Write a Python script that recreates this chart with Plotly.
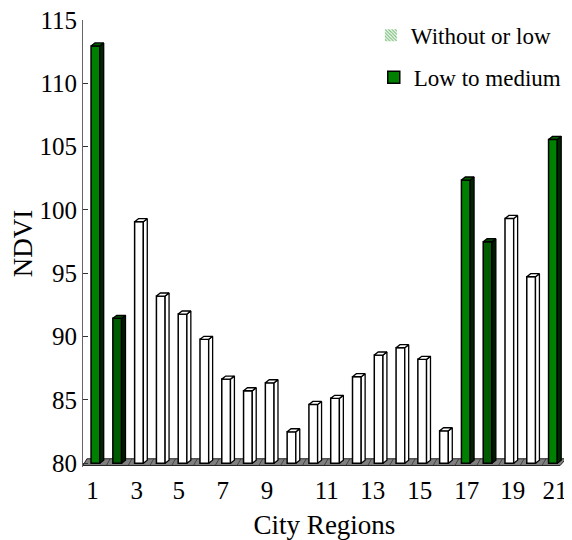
import plotly.graph_objects as go

# ---------------- data ----------------
regions = list(range(1, 23))
ndvi = [112.95, 91.44, 99.07, 93.20, 91.78, 89.78, 86.64, 85.72, 86.35, 82.48, 84.64,
        85.12, 86.83, 88.54, 89.12, 88.20, 82.56, 102.36, 97.49, 99.33, 94.73, 105.57]
cover = ["medium", "low", "none", "none", "none", "none", "none", "none", "none", "none", "none",
         "none", "none", "none", "none", "none", "none", "medium", "low", "none", "none", "medium"]
tick_labels = ["1", "3", "5", "7", "9", "11", "13", "15", "17", "19", "21"]
series_names = {"low": "Without or low", "medium": "Low to medium"}

# ---------------- style ----------------
FONT = "Liberation Serif"
BASE = 80
HW = 0.2          # half width of the bar front face (x units)
DX, DY = 0.18, 0.24   # 3-D depth offset (x units, y units)
tick_pos = [0.87, 2.90, 4.83, 6.85, 8.87, 11.62, 13.73, 15.89, 18.05, 20.16, 22.10]
XR = [0.43, 22.6]
YR = [79.7, 115]

colors = {
    "none": dict(front="#ffffff", side="#ffffff", top="#ffffff"),
    "low": dict(front="#005c00", side="#001c00", top="#004400"),
    "medium": dict(front="#008000", side="#002800", top="#006000"),
}

fig = go.Figure()

# front faces
for g in ["none", "low", "medium"]:
    xs = [r for r, c in zip(regions, cover) if c == g]
    vs = [v - BASE for v, c in zip(ndvi, cover) if c == g]
    fig.add_trace(go.Bar(
        x=xs, y=vs, base=BASE, width=2 * HW,
        marker=dict(color=colors[g]["front"], line=dict(color="black", width=1.5)),
        name=series_names.get(g, "other"),
        showlegend=(g == "medium"), legend="legend2",
        hovertemplate="Region %{x}<br>NDVI %{y}<extra></extra>",
    ))

# side and top faces (3-D look)
for g in ["none", "low", "medium"]:
    sx, sy, tx, ty = [], [], [], []
    for r, v, c in zip(regions, ndvi, cover):
        if c != g:
            continue
        sx += [r + HW, r + HW + DX, r + HW + DX, r + HW, r + HW, None]
        sy += [BASE, BASE + DY, v + DY, v, BASE, None]
        tx += [r - HW, r - HW + DX, r + HW + DX, r + HW, r - HW, None]
        ty += [v, v + DY, v + DY, v, v, None]
    for px_, py_, col in [(sx, sy, colors[g]["side"]), (tx, ty, colors[g]["top"])]:
        fig.add_trace(go.Scatter(
            x=px_, y=py_, mode="lines", fill="toself", fillcolor=col,
            line=dict(color="black", width=1.3), showlegend=False, hoverinfo="skip",
        ))

# legend-only entry with hatched symbol
fig.add_trace(go.Bar(
    x=[None], y=[None], name=series_names["low"], legend="legend",
    marker=dict(color="white", line=dict(width=0),
                pattern=dict(shape="\\", fgcolor="#008000", bgcolor="white", size=3, solidity=0.55)),
))

# floor
fl_front, fl_back = 79.82, 80.35
fig.add_shape(type="path", xref="x", yref="y", layer="below",
              path=f"M {XR[0]},{fl_front} L {22.33},{fl_front} L {XR[1]},{fl_back} L {XR[0] + 0.18},{fl_back} Z",
              fillcolor="#808080", line=dict(color="#222222", width=1))
for r in regions[:-1]:
    fig.add_shape(type="line", xref="x", yref="y", layer="below",
                  x0=r + 0.5, y0=fl_front, x1=r + 0.5 + 0.18, y1=fl_back,
                  line=dict(color="#333333", width=0.8))

# the page places the figure 8 px from the top-left corner of the window
fig.update_layout(
    width=564, height=532,
    margin=dict(l=75, r=6, t=12, b=73, autoexpand=False),
    paper_bgcolor="white", plot_bgcolor="white",
    font=dict(family=FONT, size=25, color="black"),
    barmode="overlay",
    xaxis=dict(range=XR, tickmode="array", tickvals=tick_pos, ticktext=tick_labels,
               showline=False, showgrid=False, zeroline=False, ticks="", automargin=False,
               ticklabelstandoff=6, ticklabeloverflow="allow",
               tickfont=dict(size=25), title=dict(text="City Regions", font=dict(size=27), standoff=27)),
    yaxis=dict(range=YR, tickmode="array", tickvals=[80, 85, 90, 95, 100, 105, 110, 115],
               showline=True, linecolor="#666666", linewidth=1, showgrid=False, zeroline=False,
               ticks="inside", ticklen=5, tickcolor="#333333", ticklabelstandoff=0, automargin=False,
               ticklabeloverflow="allow",
               tickfont=dict(size=25), title=dict(text="NDVI", font=dict(size=27), standoff=0)),
    legend=dict(x=0.596, y=0.966, xanchor="left", yanchor="middle",
                font=dict(family=FONT, size=23), bgcolor="rgba(0,0,0,0)"),
    legend2=dict(x=0.602, y=0.872, xanchor="left", yanchor="middle",
                 font=dict(family=FONT, size=23), bgcolor="rgba(0,0,0,0)"),
)

fig.write_html("out.html")
